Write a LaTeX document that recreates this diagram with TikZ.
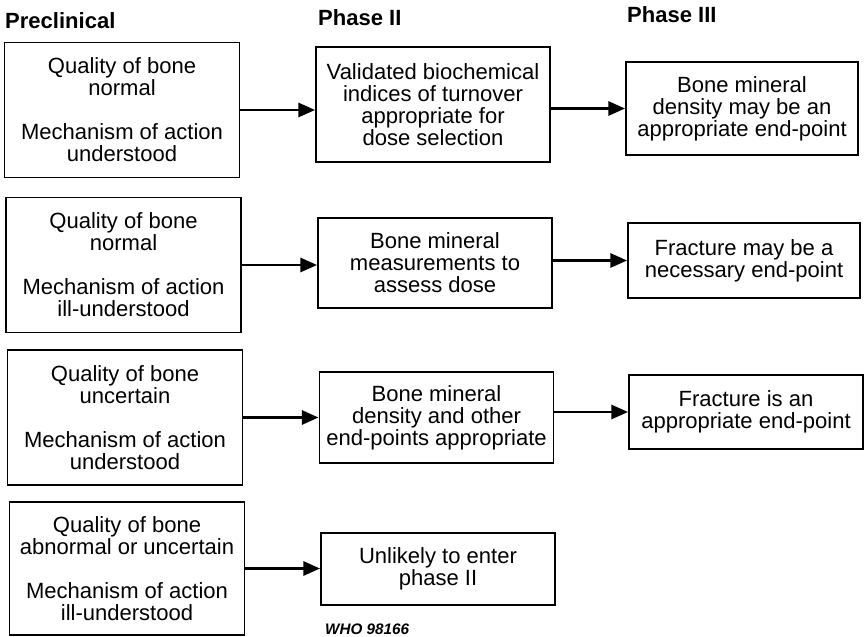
\documentclass[tikz,border=0pt]{standalone}
\usepackage{fontspec}
\setmainfont{Liberation Sans}
\usepackage{tikz}
\usetikzlibrary{arrows.meta, positioning, calc}

\begin{document}
\begin{tikzpicture}[
        prebox/.style={rectangle, draw=black, line width=1.6pt, minimum width=7.05cm, minimum height=4.05cm, align=center, inner sep=0pt, font=\fontsize{18.8pt}{18.8pt}\selectfont},
        phasebox/.style={rectangle, draw=black, line width=1.6pt, minimum width=7.02cm, align=center, inner sep=0pt, font=\fontsize{18.8pt}{18.8pt}\selectfont},
        hdr/.style={anchor=base west, inner sep=0pt, font=\fontsize{18.8pt}{18.8pt}\selectfont\bfseries},
        arr/.style={line width=2.4pt, -{Triangle[length=0.5cm, width=0.42cm]}}
    ]
        \useasboundingbox (0, 0) rectangle (25.98, -19.11);

        % Headings
        \node[hdr] (hpre) at (0.15, -0.86) {Preclinical};
        \node[hdr] (hph2) at (9.54, -0.78) {Phase II};
        \node[hdr] (hph3) at (18.81, -0.69) {Phase III};

        % Preclinical
        \node[prebox] (pre1) at (3.66, -3.3) {
            Quality of bone\\ normal\\[0.66cm]
            Mechanism of action\\ understood
        };
        \node[prebox] (pre2) at (3.705, -7.95) {
            Quality of bone\\ normal\\[0.66cm]
            Mechanism of action\\ ill-understood
        };
        \node[prebox] (pre3) at (3.75, -12.525) {
            Quality of bone\\ uncertain\\[0.66cm]
            Mechanism of action\\ understood
        };
        \node[prebox, minimum height=3.99cm] (pre4) at (3.81, -17.055) {
            Quality of bone\\ abnormal or uncertain\\[0.66cm]
            Mechanism of action\\ ill-understood
        };

        % Phase II
        \node[phasebox, minimum height=3.45cm] (ph2a) at (12.99, -3.135) {
            Validated biochemical\\ indices of turnover\\ appropriate for\\ dose selection
        };
        \node[phasebox, minimum height=2.7cm] (ph2b) at (13.05, -7.89) {
            Bone mineral\\ measurements to\\ assess dose
        };
        \node[phasebox, minimum height=2.73cm] (ph2c) at (13.095, -12.525) {
            Bone mineral\\ density and other\\ end-points appropriate
        };
        \node[phasebox, minimum height=2.16cm] (ph2d) at (13.14, -17.07) {
            Unlikely to enter\\ phase II
        };

        % Phase III
        \node[phasebox, minimum width=6.96cm, minimum height=2.79cm] (ph3a) at (22.26, -3.255) {
            Bone mineral\\ density may be an\\ appropriate end-point
        };
        \node[phasebox, minimum width=6.96cm, minimum height=2.25cm] (ph3b) at (22.32, -7.815) {
            Fracture may be a\\ necessary end-point
        };
        \node[phasebox, minimum height=2.22cm] (ph3c) at (22.38, -12.36) {
            Fracture is an\\ appropriate end-point
        };

        \node[anchor=base west, inner sep=0pt, font=\fontsize{13pt}{13pt}\selectfont\bfseries\itshape] (who) at (9.75, -19.02) {WHO 98166};

        % Connectors
        \draw[arr] (pre1.east) -- (pre1.east -| ph2a.west);
        \draw[arr] (pre2.east) -- (pre2.east -| ph2b.west);
        \draw[arr] (pre3.east) -- (pre3.east -| ph2c.west);
        \draw[arr] (pre4.east) -- (pre4.east -| ph2d.west);

        \draw[arr] (ph2a.east |- ph3a.west) -- (ph3a.west);
        \draw[arr] (ph2b.east |- ph3b.west) -- (ph3b.west);
        \draw[arr] (ph2c.east |- ph3c.west) -- (ph3c.west);

    \end{tikzpicture}
\end{document}
